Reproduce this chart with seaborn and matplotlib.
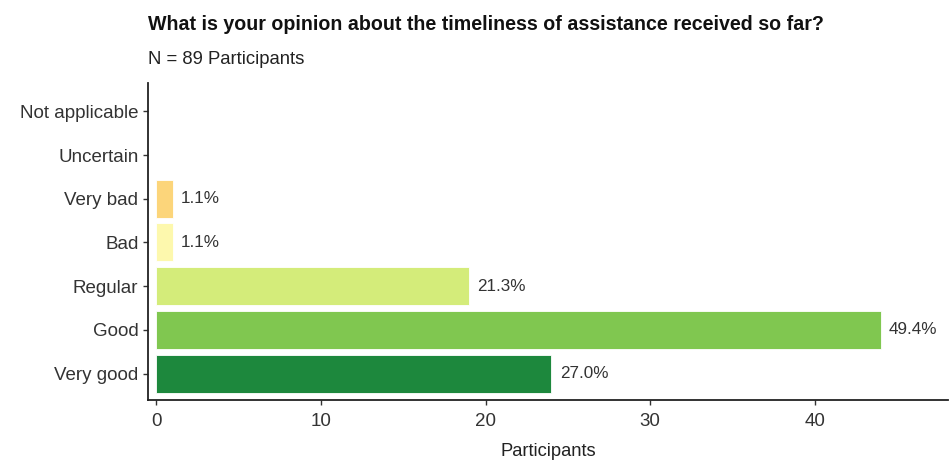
import matplotlib
matplotlib.use("Agg")
import matplotlib.pyplot as plt
import pandas as pd
import seaborn as sns

categories = ["Not applicable", "Uncertain", "Very bad", "Bad", "Regular", "Good", "Very good"]
participants = [0, 0, 1, 1, 19, 44, 24]
percent_labels = ["", "", "1.1%", "1.1%", "21.3%", "49.4%", "27.0%"]
bar_colors = ["#d73027", "#fc8d59", "#fcd57a", "#fdf8ad", "#d4ec7a", "#80c750", "#1d883d"]

title = "What is your opinion about the timeliness of assistance received so far?"
subtitle = "N = 89 Participants"

df = pd.DataFrame({"answer": categories, "participants": participants})

sns.set_theme(style="ticks")
plt.rcParams["font.family"] = ["Liberation Sans", "DejaVu Sans"]

fig = plt.figure(figsize=(9.5, 4.66), dpi=100)
ax = fig.add_axes([0.156, 0.142, 0.842, 0.680])

sns.barplot(
    data=df,
    x="participants",
    y="answer",
    hue="answer",
    order=categories,
    hue_order=categories,
    palette=dict(zip(categories, bar_colors)),
    saturation=1,
    orient="h",
    width=0.87,
    edgecolor="white",
    linewidth=0.6,
    legend=False,
    ax=ax,
)

# percent labels next to each non-empty bar
for i, (val, lab) in enumerate(zip(participants, percent_labels)):
    if lab:
        ax.text(val + 0.5, i, lab, va="center", ha="left", fontsize=12.3, color="#333333")

ax.set_xlim(-0.5, 48.1)
ax.set_ylim(6.6, -0.65)
ax.set_xticks([0, 10, 20, 30, 40])
ax.set_xlabel("Participants", fontsize=13.2, color="#222222", labelpad=9)
ax.set_ylabel("")
ax.tick_params(axis="both", labelsize=13.5, colors="#333333", length=3.5, width=1)
ax.tick_params(axis="x", pad=6)
for lbl in ax.get_xticklabels() + ax.get_yticklabels():
    lbl.set_color("#333333")
sns.despine(ax=ax)
for side in ["left", "bottom"]:
    ax.spines[side].set_linewidth(1.3)
    ax.spines[side].set_color("#222222")

fig.text(0.156, 0.935, title, fontsize=14.1, fontweight="bold", color="#111111", ha="left", va="baseline")
fig.text(0.156, 0.862, subtitle, fontsize=13.3, color="#222222", ha="left", va="baseline")

fig.savefig("out.png", dpi=100)
